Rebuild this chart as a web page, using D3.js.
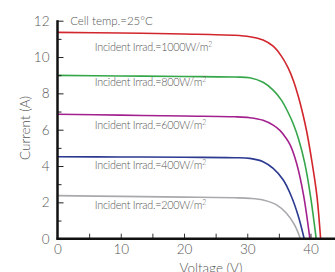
<!DOCTYPE html>
<html><head><meta charset="utf-8">
<script src="https://cdn.jsdelivr.net/npm/d3@7"></script>
<style>html,body{margin:0;padding:0;background:#fff;}svg{display:block;font-family:Lato,"Open Sans",sans-serif;}</style>
</head><body><svg id="c" width="335" height="272"></svg>
<script>
const irradLabels = ["1000","800","600","400","200"];
const colors = ["#d2262d","#35a64a","#a3218e","#2b3990","#a7a9ac"];
const v1000 = [0,10,20,28,30.4,32.5,34.1,35.4,36.5,37.3,38.1,38.8,39.4,40.2,41.0,41.6];
const i1000 = [11.36,11.32,11.27,11.2,11.12,10.94,10.6,10.05,9.38,8.7,7.8,6.85,5.9,4.3,2.4,0];
const v800 = [0,10,20,28,30.4,32.5,34.1,35.4,36.5,37.3,38.1,39.1,40.0,40.9];
const i800 = [8.99,8.96,8.93,8.9,8.86,8.61,8.18,7.63,6.92,6.3,5.5,4.15,2.35,0];
const v600 = [0,10,20,28,30.4,32.5,34.1,35.2,36.0,36.8,37.8,38.9,39.9];
const i600 = [6.85,6.8,6.75,6.71,6.66,6.52,6.25,5.95,5.6,5.15,4.15,2.4,0];
const v400 = [0,10,20,28,30.4,32.5,34.1,35.7,37.0,38.1,39.0];
const i400 = [4.51,4.5,4.48,4.46,4.42,4.24,3.87,3.23,2.31,1.21,0];
const v200 = [0,10,20,28,30.4,32.5,34.7,36.2,37.5,38.4];
const i200 = [2.37,2.33,2.29,2.25,2.22,2.13,1.85,1.4,0.75,0];
const labelY = [10.55,8.62,6.26,4.06,1.86];
const xTicks = [0,10,20,30,40];
const yTicks = [0,2,4,6,8,10,12];

const series = [[v1000,i1000],[v800,i800],[v600,i600],[v400,i400],[v200,i200]];
const svg = d3.select("#c");
const x = d3.scaleLinear().domain([0,40]).range([57.5,310.5]);
const y = d3.scaleLinear().domain([0,12]).range([238.7,20.7]);
const txt = "#555";

// curves
const line = d3.line().x(d=>x(d[0])).y(d=>y(d[1])).curve(d3.curveCatmullRom.alpha(0.5));
series.forEach((s,k)=>{
  const pts = s[0].map((v,j)=>[v,s[1][j]]);
  svg.append("path").attr("d",line(pts)).attr("fill","none").attr("stroke",colors[k]).attr("stroke-width",1.6);
});

// x axis
const xa = svg.append("g").attr("transform",`translate(0,${y(0)})`)
  .call(d3.axisBottom(x).tickValues(xTicks).tickSize(0).tickPadding(6));
xa.select(".domain").remove();
xa.selectAll("text").attr("font-size",13.5).attr("fill",txt).attr("font-family","Lato").attr("font-weight",300);
svg.append("g").attr("transform",`translate(0,${y(0)})`)
  .call(d3.axisTop(x).tickValues([5,10,15,20,25,30,35,40]).tickSize(5).tickFormat(""))
  .call(g=>g.select(".domain").remove())
  .selectAll("line").attr("stroke","#333");
svg.append("line").attr("x1",x(0)-1).attr("x2",335).attr("y1",y(0)).attr("y2",y(0)).attr("stroke","#111").attr("stroke-width",2.5);

// y axis
const ya = svg.append("g").attr("transform",`translate(${x(0)-8},0)`)
  .call(d3.axisLeft(y).tickValues(yTicks).tickSize(0).tickPadding(0));
ya.select(".domain").remove();
ya.selectAll("text").attr("font-size",13.5).attr("fill",txt).attr("font-family","Lato").attr("font-weight",300);
svg.append("g").attr("transform",`translate(${x(0)},0)`)
  .call(d3.axisRight(y).tickValues(yTicks.slice(1)).tickSize(6).tickFormat(""))
  .call(g=>g.select(".domain").remove())
  .selectAll("line").attr("stroke","#222");
svg.append("g").attr("transform",`translate(${x(0)},0)`)
  .call(d3.axisRight(y).tickValues([1,3,5,7,9,11]).tickSize(4).tickFormat(""))
  .call(g=>g.select(".domain").remove())
  .selectAll("line").attr("stroke","#222");
svg.append("line").attr("x1",x(0)).attr("x2",x(0)).attr("y1",y(12)-0.5).attr("y2",y(0)+1).attr("stroke","#111").attr("stroke-width",2.5);

// labels
svg.append("text").attr("x",x(2)).attr("y",y(12)+4).attr("font-size",11.5).attr("fill",txt).attr("font-weight",300).text("Cell temp.=25°C");
irradLabels.forEach((l,k)=>{
  const t = svg.append("text").attr("x",x(5.9)).attr("y",y(labelY[k])+4).attr("font-size",10.8).attr("letter-spacing",-0.25).attr("fill",txt).attr("font-weight",300);
  t.append("tspan").text("Incident Irrad.="+l+"W/m");
  t.append("tspan").attr("dy",-4).attr("font-size",7).text("2");
});
svg.append("text").attr("x",211).attr("y",272.5).attr("text-anchor","middle").attr("font-size",13.5).attr("fill",txt).attr("font-weight",300).text("Voltage (V)");
svg.append("text").attr("transform","translate(30,128) rotate(-90)").attr("text-anchor","middle").attr("font-size",13.5).attr("fill",txt).attr("font-weight",300).text("Current (A)");
</script></body></html>
